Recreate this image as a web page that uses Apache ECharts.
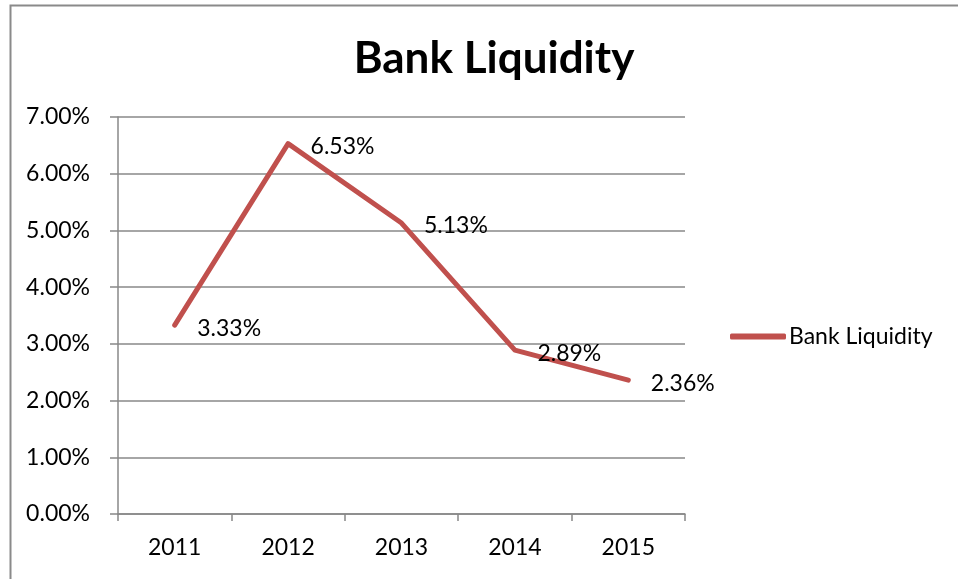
<!DOCTYPE html>
<html><head><meta charset="utf-8">
<script src="https://cdn.jsdelivr.net/npm/echarts@6/dist/echarts.min.js"></script>
<style>html,body{margin:0;padding:0;background:#fff}#c{width:958px;height:579px}</style>
</head><body><div id="c"></div>
<script>
const categories = ['2011','2012','2013','2014','2015'];
const bankLiquidity = [3.33, 6.53, 5.13, 2.89, 2.36];
const yTicks = [0,1,2,3,4,5,6,7];
const seriesName = 'Bank Liquidity';
const FONT = 'Lato, "Open Sans", sans-serif';

const chart = echarts.init(document.getElementById('c'), null, {renderer:'canvas'});
chart.setOption({
  animation:false,
  backgroundColor:'#fff',
  textStyle:{fontFamily:FONT},
  title:{text:'Bank Liquidity', left:489, top:32, textAlign:'center',
    textStyle:{fontFamily:FONT, fontWeight:'bold', fontSize:44, color:'#000'}},
  graphic:[{type:'rect', shape:{x:10.5,y:5.5,width:1000,height:700}, style:{fill:'none', stroke:'#8a8a8a', lineWidth:2}, silent:true}],
  legend:{data:[{name:seriesName, itemStyle:{color:'#C0504D', opacity:1}}], left:725, top:320, itemWidth:56, itemHeight:6, itemGap:4,
    icon:'roundRect',
    itemStyle:{color:'#C0504D', opacity:1},
    textStyle:{fontFamily:FONT, fontSize:23, color:'#000', padding:[0,0,0,-2]}},
  grid:{left:118, right:273, top:117, bottom:65},
  xAxis:{type:'category', data:categories, boundaryGap:true,
    axisLine:{lineStyle:{color:'#888', width:1.5}},
    axisTick:{show:true, length:7, lineStyle:{color:'#888', width:1.5}},
    axisLabel:{color:'#000', fontSize:23, margin:22, fontFamily:FONT}},
  yAxis:{type:'value', min:0, max:7, interval:1,
    axisLine:{show:true, lineStyle:{color:'#888', width:1.5}},
    axisTick:{show:true, length:8, lineStyle:{color:'#888', width:1.5}},
    splitLine:{lineStyle:{color:'#888', width:1.5}},
    axisLabel:{color:'#000', fontSize:23, margin:28, fontFamily:FONT,
      formatter:v=>yTicks.includes(v)? v.toFixed(2)+'%':''}},
  series:[{name:seriesName, type:'line', data:bankLiquidity, showSymbol:true, symbol:'circle', symbolSize:1,
    lineStyle:{color:'#C0504D', width:5, cap:'round', join:'round'}, itemStyle:{color:'rgba(192,80,77,0)', borderWidth:0},
    label:{show:true, position:'right', distance:22, offset:[0,3], color:'#000', fontSize:23, fontFamily:FONT,
      formatter:p=>p.value.toFixed(2)+'%'}}]
});
</script></body></html>
